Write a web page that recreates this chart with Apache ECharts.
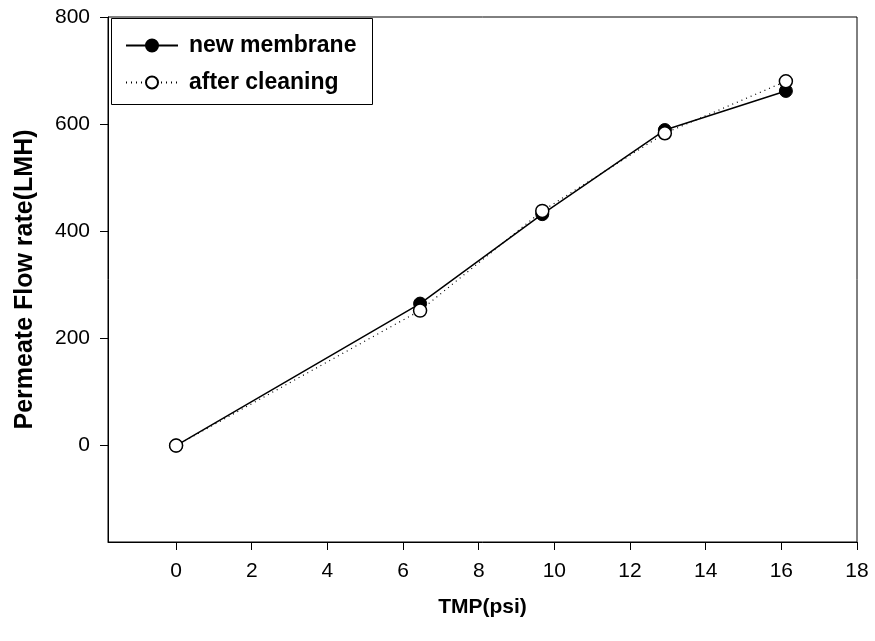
<!DOCTYPE html>
<html>
<head>
<meta charset="utf-8">
<script src="https://cdn.jsdelivr.net/npm/echarts@6.0.0/dist/echarts.min.js"></script>
<style>
  html, body { margin: 0; padding: 0; background: #fff; }
  #chart { width: 875px; height: 641px; }
</style>
</head>
<body>
<div id="chart"></div>
<script>
// data
const tmpValues = [0, 6.45, 9.68, 12.92, 16.12];
const newMembrane = [0, 265, 432, 589, 662];
const afterCleaning = [0, 252, 438, 583, 680];
const xTicks = [0, 2, 4, 6, 8, 10, 12, 14, 16, 18];
const yTicks = [0, 200, 400, 600, 800];

const FONT = 'Liberation Sans, Arial, sans-serif';

let pairs = (xs, ys) => xs.map((x, i) => [x, ys[i]]);

let chart = echarts.init(document.getElementById('chart'));
chart.setOption({
  animation: false,
  backgroundColor: '#fff',
  grid: {
    left: 108, right: 18, top: 17, bottom: 99,
    show: true, borderColor: '#000', borderWidth: 1
  },
  graphic: [
    // legend frame
    {
      type: 'rect', left: 111, top: 18, z: 0,
      shape: { width: 261, height: 86 },
      style: { fill: '#fff', stroke: '#000', lineWidth: 1 }
    }
  ],
  legend: {
    orient: 'vertical',
    left: 120, top: 34,
    padding: [0, 0, 0, 5],
    itemWidth: 52, itemHeight: 15, itemGap: 14,
    z: 5,
    textStyle: { fontFamily: FONT, fontSize: 23, fontWeight: 'bold', color: '#000', padding: [0, 0, 0, 6] },
    data: ['new membrane', 'after cleaning']
  },
  xAxis: {
    type: 'value',
    min: -1.8, max: 18,
    name: 'TMP(psi)',
    nameLocation: 'middle',
    nameGap: 55,
    nameTextStyle: { fontFamily: FONT, fontSize: 21, fontWeight: 'bold', color: '#000' },
    axisLine: { show: true, onZero: false, lineStyle: { color: '#000', width: 1 } },
    axisTick: { show: true, length: 8, customValues: xTicks, lineStyle: { color: '#000' } },
    axisLabel: { customValues: xTicks, margin: 19, fontFamily: FONT, fontSize: 21, color: '#000' },
    splitLine: { show: false }
  },
  yAxis: {
    type: 'value',
    min: -180, max: 800,
    name: 'Permeate Flow rate(LMH)',
    nameLocation: 'middle',
    nameGap: 70,
    nameTextStyle: { fontFamily: FONT, fontSize: 25, fontWeight: 'bold', color: '#000' },
    axisLine: { show: true, onZero: false, lineStyle: { color: '#000', width: 1 } },
    axisTick: { show: true, length: 8, customValues: yTicks, lineStyle: { color: '#000' } },
    axisLabel: { customValues: yTicks, margin: 18, fontFamily: FONT, fontSize: 21, color: '#000' },
    splitLine: { show: false }
  },
  series: [
    {
      name: 'new membrane',
      type: 'line',
      data: pairs(tmpValues, newMembrane),
      symbol: 'circle',
      symbolSize: 13,
      itemStyle: { color: '#000', borderColor: '#000', borderWidth: 1 },
      lineStyle: { color: '#000', width: 1.5, type: 'solid' },
      z: 3
    },
    {
      name: 'after cleaning',
      type: 'line',
      data: pairs(tmpValues, afterCleaning),
      symbol: 'circle',
      symbolSize: 13,
      itemStyle: { color: '#fff', borderColor: '#000', borderWidth: 1.5 },
      lineStyle: { color: '#000', width: 1.2, type: [1, 4] },
      z: 4
    }
  ]
});
</script>
</body>
</html>
